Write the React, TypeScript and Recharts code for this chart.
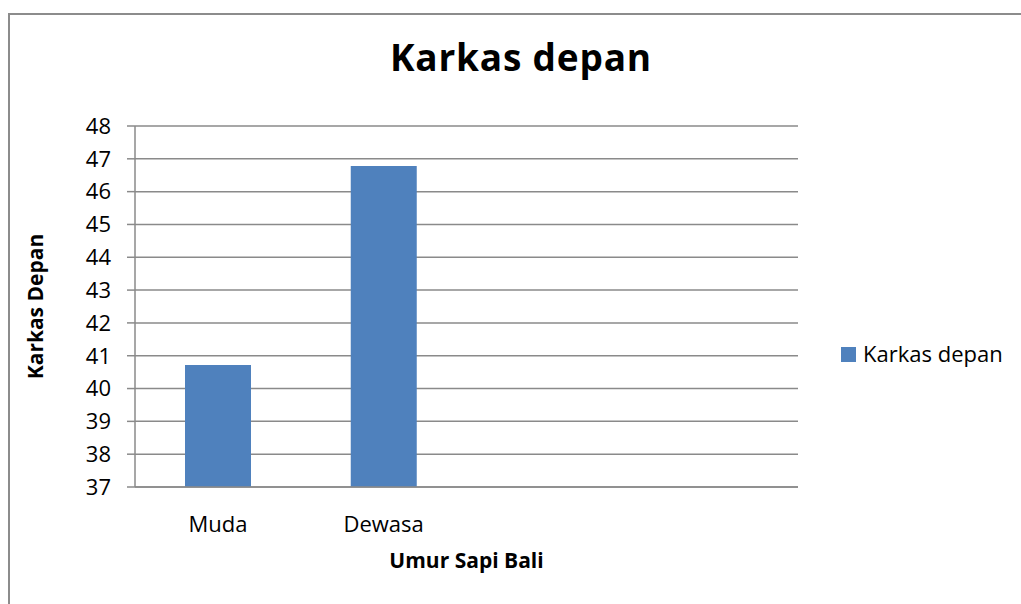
import React from "react";
import { BarChart, Bar, XAxis, YAxis, CartesianGrid, Label } from "recharts";

const FONT = "'Open Sans', 'Liberation Sans', sans-serif";
const BLUE = "#4F81BD";
const GRID = "#8a8a8a";

// umur sapi bali (two empty slots keep the Excel-style spacing)
const categories = ["Muda", "Dewasa", " ", "  "];
const karkasDepan = [40.72, 46.78, null, null];
const yTicks = [37, 38, 39, 40, 41, 42, 43, 44, 45, 46, 47, 48];

const data = categories.map((name, i) => ({ name, value: karkasDepan[i] }));

export default function App() {
  return (
    <div
      style={{
        position: "absolute", left: 0, top: 0, width: 1021, height: 604,
        overflow: "hidden", background: "#fff", fontFamily: FONT,
      }}
    >
      {/* outer chart frame */}
      <div
        style={{
          position: "absolute", left: 8, top: 13, width: 1040, height: 720,
          border: "2px solid #8c8c8c", boxSizing: "border-box",
        }}
      />

      <div
        style={{
          position: "absolute", left: 0, width: 1042, top: 38, textAlign: "center",
          fontSize: 37, fontWeight: 700, lineHeight: "37px", color: "#000", letterSpacing: 0.8,
        }}
      >
        Karkas depan
      </div>

      <div style={{ position: "absolute", left: 0, top: 0 }}>
        <BarChart
          width={1021}
          height={604}
          data={data}
          margin={{ top: 126, right: 223, bottom: 0, left: 0 }}
        >
          <CartesianGrid vertical={false} stroke={GRID} strokeWidth={1.5} />
          <XAxis
            dataKey="name"
            height={117}
            tickLine={false}
            tickSize={0}
            tickMargin={29}
            axisLine={{ stroke: GRID, strokeWidth: 1.5 }}
            tick={{ fill: "#000", fontSize: 22, fontFamily: FONT }}
            interval={0}
          >
            <Label
              value="Umur Sapi Bali"
              position="insideBottom"
              offset={36}
              style={{ fontSize: 21, fontWeight: 700, fill: "#000", fontFamily: FONT }}
            />
          </XAxis>
          <YAxis
            width={135}
            domain={[37, 48]}
            ticks={yTicks}
            interval={0}
            tickSize={8}
            tickMargin={16}
            tickLine={{ stroke: GRID, strokeWidth: 1.5 }}
            axisLine={{ stroke: GRID, strokeWidth: 1.5 }}
            tick={{ fill: "#000", fontSize: 22, fontFamily: FONT }}
          >
            <Label
              value="Karkas Depan"
              angle={-90}
              position="insideLeft"
              offset={36}
              style={{ textAnchor: "middle", fontSize: 21, fontWeight: 700, fill: "#000", fontFamily: FONT }}
            />
          </YAxis>
          <Bar dataKey="value" fill={BLUE} barSize={66} isAnimationActive={false} />
        </BarChart>
      </div>

      {/* legend */}
      <div
        style={{
          position: "absolute", left: 841, top: 342, display: "flex", alignItems: "flex-start",
          fontSize: 22, lineHeight: "22px", color: "#000",
        }}
      >
        <span style={{ width: 15, height: 15, background: BLUE, marginTop: 5, marginRight: 7, display: "inline-block" }} />
        <span>Karkas depan</span>
      </div>
    </div>
  );
}
